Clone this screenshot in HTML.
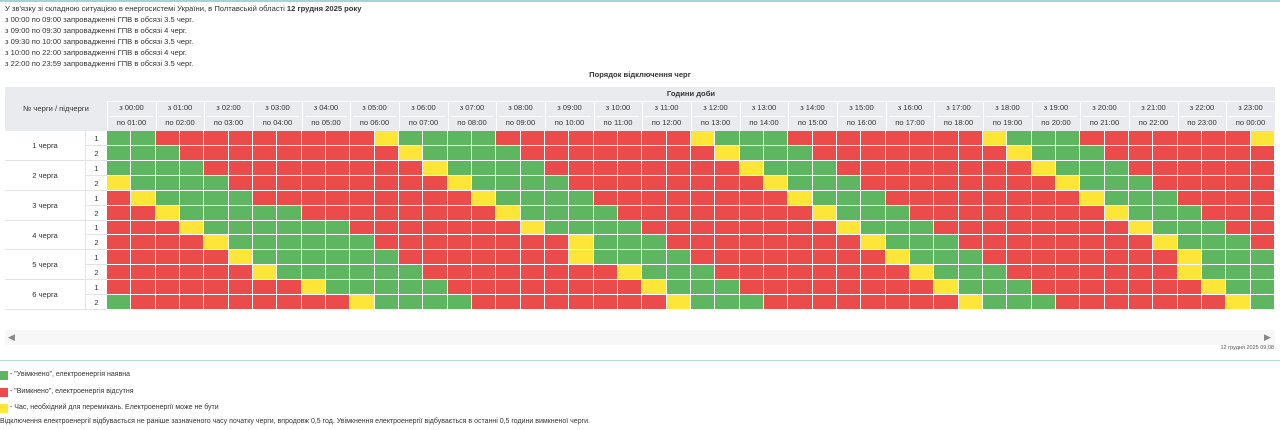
<!DOCTYPE html>
<html><head><meta charset="utf-8">
<style>
body{margin:0;width:1280px;height:430px;background:#fff;font-family:"Liberation Sans","DejaVu Sans",sans-serif;color:#333;position:relative;overflow:hidden}
.a{position:absolute;white-space:nowrap}
.t{font-size:7.6px;line-height:11px;left:5px}
.h{background:#e9ebee;position:absolute;font-size:7.6px;color:#333;text-align:center;box-sizing:border-box}
.c{position:absolute;box-sizing:border-box;border-right:1px solid #fff;border-bottom:1px solid #fff}
.G{background:#5fb660}.R{background:#ec4b4b}.Y{background:#fde637}
.lb{position:absolute;font-size:7.6px;text-align:center;box-sizing:border-box;border-bottom:1px solid #e3e3e3}
</style></head><body>
<div class="a" style="left:0;top:0;width:1280px;height:2px;background:#a9cfdb"></div>
<div class="a t" style="top:3px">У зв'язку зі складною ситуацією в енергосистемі України, в Полтавській області <b>12 грудня 2025 року</b></div>
<div class="a t" style="top:14px">з 00:00 по 09:00 запровадженні ГПВ в обсязі 3.5 черг.</div>
<div class="a t" style="top:25px">з 09:00 по 09:30 запровадженні ГПВ в обсязі 4 черг.</div>
<div class="a t" style="top:36px">з 09:30 по 10:00 запровадженні ГПВ в обсязі 3.5 черг.</div>
<div class="a t" style="top:47px">з 10:00 по 22:00 запровадженні ГПВ в обсязі 4 черг.</div>
<div class="a t" style="top:58px">з 22:00 по 23:59 запровадженні ГПВ в обсязі 3.5 черг.</div>
<div class="a" style="left:0;width:1280px;top:70px;text-align:center;font-size:7.6px;font-weight:bold">Порядок відключення черг</div>
<div id="g"></div>
<div class="a" style="left:5px;top:330px;width:1270px;height:15px;background:#f7f7f7"></div>
<div class="a" style="left:8px;top:332px;font-size:9px;color:#888">◀</div>
<div class="a" style="left:1264px;top:332px;font-size:9px;color:#888">▶</div>
<div class="a" style="right:6px;top:345px;font-size:5.5px;color:#555">12 грудня 2025 09:08</div>
<div class="a" style="left:0;top:360px;width:1280px;height:1px;background:#b8dbe2"></div>
<div class="a G" style="left:0;top:371px;width:8px;height:9px"></div>
<div class="a" style="left:10px;top:371px;font-size:7px">- "Увімкнено", електроенергія наявна</div>
<div class="a R" style="left:0;top:388px;width:8px;height:9px"></div>
<div class="a" style="left:10px;top:388px;font-size:7px">- "Вимкнено", електроенергія відсутня</div>
<div class="a Y" style="left:0;top:404px;width:8px;height:9px"></div>
<div class="a" style="left:10px;top:404px;font-size:7px">- Час, необхідний для перемикань. Електроенергії може не бути</div>
<div class="a" style="left:0;top:418px;font-size:7px">Відключення електроенергії відбувається не раніше зазначеного часу початку черги, впродовж 0,5 год. Увімкнення електроенергії відбувається в останні 0,5 години вимкненої черги.</div>
<script>
var rows=[
"GGRRRRRRRRRYGGGGRRRRRRRRYGGGRRRRRRRRYGGGRRRRRRRY",
"GGGRRRRRRRRRYGGGGRRRRRRRRYGGGRRRRRRRRYGGGRRRRRRR",
"GGGGRRRRRRRRRYGGGGRRRRRRRRYGGGRRRRRRRRYGGGRRRRRR",
"YGGGGRRRRRRRRRYGGGGRRRRRRRRYGGGRRRRRRRRYGGGRRRRR",
"RYGGGGRRRRRRRRRYGGGGRRRRRRRRYGGGRRRRRRRRYGGGRRRR",
"RRYGGGGGRRRRRRRRYGGGGRRRRRRRRYGGGRRRRRRRRYGGGRRR",
"RRRYGGGGGGRRRRRRRYGGGGRRRRRRRRYGGGRRRRRRRRYGGGRR",
"RRRRYGGGGGGRRRRRRRRYGGGRRRRRRRRYGGGRRRRRRRRYGGGR",
"RRRRRYGGGGGGRRRRRRRYGGGGRRRRRRRRYGGGRRRRRRRRYGGG",
"RRRRRRYGGGGGGRRRRRRRRYGGGRRRRRRRRYGGGRRRRRRRYGGG",
"RRRRRRRRYGGGGGRRRRRRRRYGGGRRRRRRRRYGGGRRRRRRRYGG",
"GRRRRRRRRRYGGGGRRRRRRRRYGGGRRRRRRRRYGGGRRRRRRRYG"];
var x0=107,x1=1275,cw=(x1-x0)/48,y0=131,rh=(310-131)/12,h='';
function X(c){return Math.round(x0+c*cw)}
function Yp(r){return Math.round(y0+r*rh)}
function p(n){return (n<10?'0':'')+n+':00'}
h+='<div class="h" style="left:5px;top:87px;width:1270px;height:44px"></div>';
h+='<div class="a" style="left:5px;top:104px;width:102px;text-align:center;font-size:7.6px">№ черги / підчерги</div>';
h+='<div class="a" style="left:107px;top:89px;width:1168px;text-align:center;font-size:7.6px;font-weight:bold">Години доби</div>';
h+='<div class="a" style="left:107px;top:101px;width:1168px;height:1px;background:#fff"></div>';
for(var k=0;k<24;k++){var L=X(2*k),W=X(2*k+2)-L;
h+='<div class="a" style="left:'+L+'px;top:101px;width:1px;height:30px;background:#fff"></div>';
h+='<div class="a" style="left:'+L+'px;top:103px;width:'+W+'px;text-align:center;font-size:7.6px">з '+p(k)+'</div>';
h+='<div class="a" style="left:'+(L+3)+'px;top:116px;width:'+(W-6)+'px;height:1px;background:#fff"></div>';
h+='<div class="a" style="left:'+L+'px;top:118px;width:'+W+'px;text-align:center;font-size:7.6px">по '+p((k+1)%24)+'</div>';}
for(var r=0;r<12;r++){var T=Yp(r),H=Yp(r+1)-T;
if(r%2==0){var H2=Yp(r+2)-T;h+='<div class="lb" style="left:5px;top:'+T+'px;width:80px;height:'+H2+'px;line-height:'+H2+'px">'+(r/2+1)+' черга</div>';}
h+='<div class="lb" style="left:85px;top:'+T+'px;width:22px;height:'+H+'px;line-height:'+H+'px;border-left:1px solid #e3e3e3">'+(r%2+1)+'</div>';
for(var c=0;c<48;c++){var L2=X(c);h+='<div class="c '+rows[r][c]+'" style="left:'+L2+'px;top:'+T+'px;width:'+(X(c+1)-L2)+'px;height:'+H+'px"></div>';}}
document.getElementById('g').innerHTML=h;
</script>
</body></html>
